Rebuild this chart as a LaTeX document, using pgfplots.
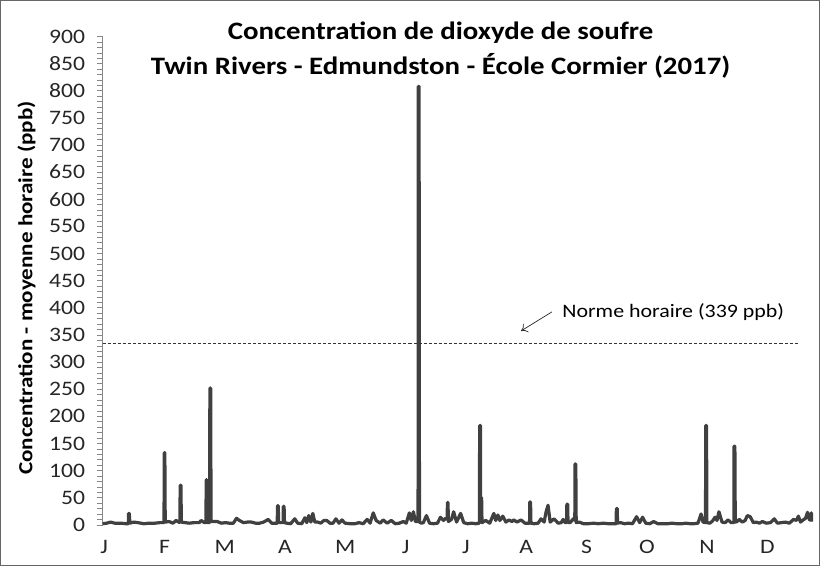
\documentclass[border=0pt]{standalone}
\usepackage{pgfplots}
\pgfplotsset{compat=1.18}
\usetikzlibrary{arrows.meta}
\usepackage{fontspec}
\setmainfont{Carlito}[FakeStretch=1.15]
\definecolor{serie}{HTML}{404040}
\definecolor{axe}{HTML}{868686}
\begin{document}
\begin{tikzpicture}
\begin{axis}[
  scale only axis, width=707pt, height=487pt,
  xmin=0, xmax=365, ymin=0, ymax=900,
  axis lines*=left,
  x axis line style={draw=none},
  y axis line style={axe, line width=0.8pt},
  ytick={0,50,...,900}, minor y tick num=4,
  tick align=outside, major tick length=6pt, minor tick length=6pt,
  ytick style={axe, line width=0.6pt},
  minor y tick style={axe, line width=0.5pt},
  xtick={0.8,31.8,62.8,93.9,124.9,156.0,187.0,218.1,249.1,280.2,311.2,342.3},
  xticklabels={J,F,M,A,M,J,J,A,S,O,N,D},
  xtick style={draw=none},
  tick label style={font=\fontsize{20.5}{24}\selectfont, text=black!85},
  yticklabel style={xshift=-8pt},
  xticklabel style={yshift=-6pt},
  /pgf/number format/assume math mode=true,
  clip=false,
]
\addplot[serie, line width=3.2pt, line join=round, no marks] coordinates {
(0.0,2)(2.1,3)(4.1,5)(6.2,3)(9.3,3)(11.9,2)(13.2,2)(13.3,21)(13.7,21)(14.0,3)
(16.0,5)(18.1,4)(21.2,2)(23.8,3)(26.9,3)(29.5,4)
(31.6,4)(31.7,133)(32.0,133)(32.2,5)
(34.2,6)(36.2,3)(37.8,8)(39.6,4)(39.8,5)(39.9,73)(40.3,73)(40.5,5)
(42.5,4)(44.5,3)(47.1,4)(49.7,4)(50.7,8)(52.3,4)
(53.2,4)(53.3,83)(53.6,83)(53.8,4)
(55.1,4)(55.2,252)(55.6,252)(55.8,6)
(57.5,6)(59.0,6)(61.1,3)(63.2,4)(65.2,3)(67.3,3)(68.9,12)(70.4,8)(72.5,4)
(74.5,5)(76.6,5)(78.7,3)(80.8,3)(82.8,5)(84.4,8)(85.2,10)(87.0,3)(88.5,3)
(89.9,3)(90.0,35)(90.4,35)(90.6,4)(91.6,4)
(92.9,4)(93.0,34)(93.4,34)(93.6,4)
(94.7,3)(96.8,2)(98.9,11)(100.4,3)(102.5,2)(104.1,13)(105.1,4)(106.1,17)
(107.2,5)(108.2,21)(109.2,5)(110.8,5)(112.3,3)(113.9,8)(115.4,8)(117.0,3)
(118.6,3)(120.1,11)(121.7,3)(123.2,9)(124.8,3)(127.4,2)(129.9,2)(132.0,4)
(134.1,2)(136.2,10)(137.7,3)(139.3,22)(140.8,8)(142.9,3)(144.4,9)(146.5,3)
(148.6,8)(150.6,2)(152.7,3)(154.8,6)(156.3,3)(157.9,22)(158.9,8)(160.0,24)
(161.0,6)(162.4,6)(162.5,808)(162.9,808)(163.1,5)
(164.1,3)(165.1,4)(166.7,17)(168.3,3)(170.3,2)(172.4,3)(173.9,14)(175.5,8)
(176.5,12)(177.4,10)(177.5,41)(177.8,41)(178.0,6)(179.6,10)(180.7,24)(182.2,5)
(184.3,21)(185.9,4)(187.9,2)(190.0,3)(192.1,2)(193.6,3)
(194.0,3)(194.1,183)(194.5,183)(194.6,50)(195.1,50)(195.3,4)
(197.2,8)(199.3,3)(201.4,21)(202.4,8)(203.5,18)(204.5,8)(206.0,16)(207.6,5)
(209.2,9)(210.7,6)(211.7,9)(213.3,5)(215.4,9)(217.4,3)(219.0,3)
(219.8,3)(219.9,42)(220.3,42)(220.5,3)
(222.1,2)(224.2,3)(225.7,11)(227.3,5)(228.3,24)(229.3,36)(230.4,5)(232.4,11)
(234.5,3)(236.1,4)(237.1,10)(238.1,4)(238.9,4)(239.0,38)(239.4,38)(239.6,4)
(240.7,4)(242.3,11)(243.1,8)(243.2,112)(243.6,112)(243.8,4)
(245.4,5)(247.5,2)(250.0,2)(252.6,3)(255.2,2)(257.8,3)(260.4,2)(262.5,2)
(264.4,2)(264.5,30)(264.9,30)(265.1,3)
(266.6,4)(268.7,2)(270.8,3)(272.8,2)(274.9,15)(276.5,4)(278.0,14)(279.6,3)
(281.7,2)(283.7,6)(285.8,2)(288.4,2)(291.0,2)(293.1,3)(295.6,2)(298.2,2)
(300.3,3)(302.4,2)(304.4,2)(306.5,3)(308.1,20)(309.1,5)
(310.4,4)(310.5,183)(310.9,183)(311.1,4)
(312.7,3)(314.2,8)(315.3,14)(316.3,8)(317.3,24)(318.9,5)(320.5,4)(322.0,9)
(323.6,4)(325.0,4)(325.1,145)(325.5,145)(325.7,5)
(326.7,6)(327.7,10)(329.3,5)(330.8,8)(331.9,17)(333.4,15)(335.0,4)(336.5,5)
(338.1,3)(339.7,6)(341.7,3)(343.8,4)(345.8,11)(347.4,3)(349.5,4)(351.5,5)
(353.6,3)(355.7,10)(357.2,8)(358.2,16)(359.3,5)(360.3,8)(361.9,12)(362.9,23)
(363.9,9)(364.9,22)(365.0,6)
};
\draw[black!80, line width=0.8pt, dash pattern=on 3pt off 2pt]
  (axis cs:0,335) -- (axis cs:358,335);
\draw[-{To[length=6pt,width=10pt]}, black!85, line width=0.7pt]
  (axis cs:231.3,392.4) -- (axis cs:215.4,357.3);
\node[anchor=base west, font=\fontsize{19}{22}\selectfont, inner sep=0pt]
  at (axis cs:236.6,382.6) {Norme horaire (339 ppb)};
\node[anchor=base, font=\fontsize{25}{29}\selectfont\bfseries, inner sep=0pt]
  at ([yshift=484pt]rel axis cs:0.4767,0) {Concentration de dioxyde de soufre};
\node[anchor=base, font=\fontsize{25}{29}\selectfont\bfseries, inner sep=0pt]
  at ([yshift=449pt]rel axis cs:0.4767,0) {Twin Rivers - Edmundston - École Cormier (2017)};
\node[anchor=base, rotate=90, font=\fontsize{20}{24}\selectfont\bfseries, inner sep=0pt]
  at ([xshift=-70pt]rel axis cs:0,0.485) {Concentration - moyenne horaire (ppb)};
\end{axis}
\draw[black!60, line width=0.8pt]
  ([shift={(-102pt,-40pt)}]current axis.south west) rectangle
  ([shift={(8pt,36pt)}]current axis.north east);
\end{tikzpicture}
\end{document}
